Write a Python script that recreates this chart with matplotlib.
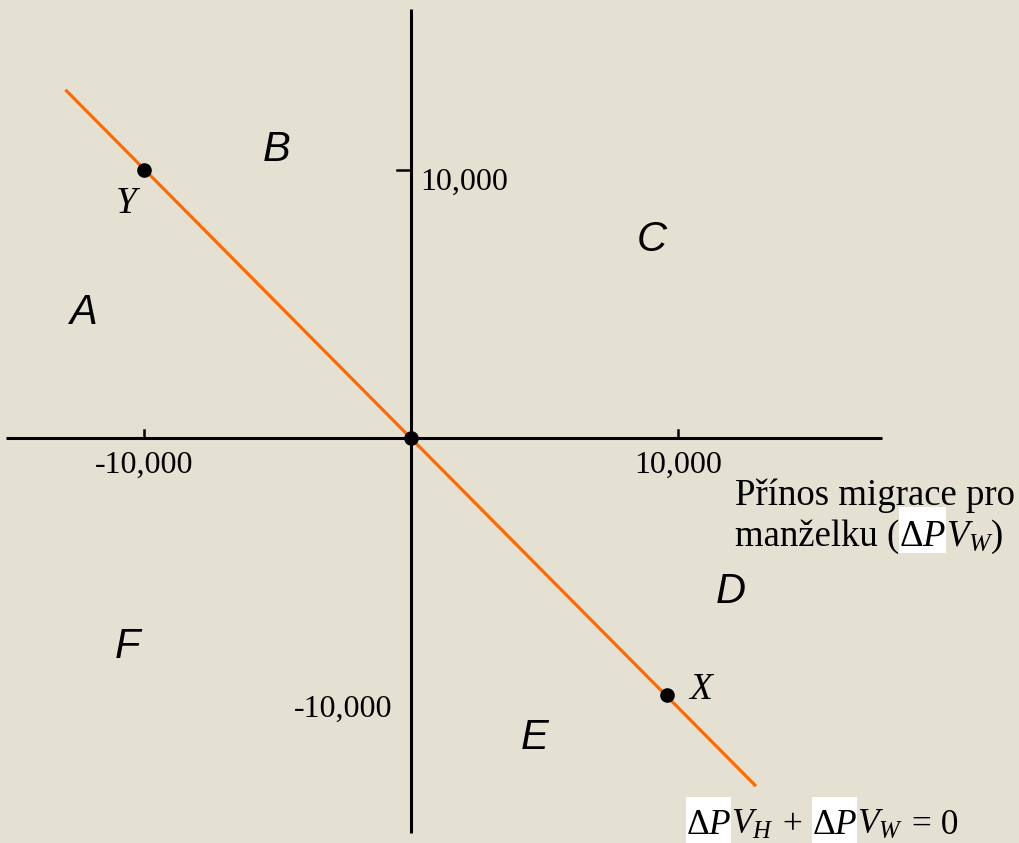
import matplotlib
matplotlib.use("Agg")
import matplotlib.pyplot as plt
from matplotlib.transforms import Affine2D
from matplotlib.patches import Rectangle

# ---- data ----
line_x = [-12900, 12880]          # ΔPV_H + ΔPV_W = 0
line_y = [12950, -12950]
pt_names = ["Y", "O", "X"]
pt_x = [-10000, 0, 9600]
pt_y = [10000, 0, -9600]
xtick_vals = [-10000, 10000]
xtick_labels = ["-10,000", "10,000"]
ytick_vals = [10000, -10000]
ytick_labels = ["10,000", "-10,000"]
regions = ["A", "B", "C", "D", "E", "F"]
axis_x_range = [-15150, 17650]
axis_y_range = [-14750, 16000]

BG = "#E5E1D2"
ORANGE = "#FF6A00"
W, H = 1019, 843

plt.rcParams["mathtext.fontset"] = "custom"
plt.rcParams["mathtext.rm"] = "Liberation Serif"
plt.rcParams["mathtext.it"] = "Liberation Serif:italic"
plt.rcParams["mathtext.bf"] = "Liberation Serif:bold"

fig = plt.figure(figsize=(W / 100, H / 100), dpi=100, facecolor=BG)
ax = fig.add_axes([0, 0, 1, 1])
ax.set_facecolor(BG)
sx, sy = 267 / 1e4, 268 / 1e4
ox, oy = 411, 438
ax.set_xlim((0 - ox) / sx, (W - ox) / sx)
ax.set_ylim((oy - H) / sy, (oy - 0) / sy)
ax.axis("off")
renderer = fig.canvas.get_renderer()

# pixel transform (origin top-left)
tpx = Affine2D().scale(1, -1).translate(0, H)

# axes lines
ax.plot(axis_x_range, [0, 0], color="black", lw=2.2, solid_capstyle="butt", zorder=2)
ax.plot([0, 0], axis_y_range, color="black", lw=2.2, solid_capstyle="butt", zorder=2)

# ticks
for v in xtick_vals:
    ax.plot([v, v], [0, 8 / sy], color="black", lw=1.8, zorder=2)
ax.plot([-14 / sx, 0], [ytick_vals[0]] * 2, color="black", lw=1.8, zorder=2)

tfont = dict(family="Liberation Serif", fontsize=23, color="black")
for v, lab in zip(xtick_vals, xtick_labels):
    ax.annotate(lab, (v, 0), xytext=(0, -13), textcoords="offset pixels",
                ha="center", va="top", **tfont)
ax.annotate(ytick_labels[0], (0, ytick_vals[0]), xytext=(9, -20),
            textcoords="offset pixels", ha="left", va="baseline", **tfont)
ax.annotate(ytick_labels[1], (0, ytick_vals[1]), xytext=(-19, -3),
            textcoords="offset pixels", ha="right", va="center", **tfont)

# orange line
ax.plot(line_x, line_y, color=ORANGE, lw=2.3, zorder=3)
# points
ax.plot(pt_x, pt_y, "o", color="black", ms=9.5, zorder=4)

# point labels
ax.annotate("Y", (pt_x[0], pt_y[0]), xytext=(-18, -43), textcoords="offset pixels",
            ha="center", va="baseline", family="Liberation Serif", style="italic",
            fontsize=27)
ax.annotate("X", (pt_x[2], pt_y[2]), xytext=(33, -4), textcoords="offset pixels",
            ha="center", va="baseline", family="Liberation Serif", style="italic",
            fontsize=27)

# region labels
reg_pos = {"A": (83, 313), "B": (277, 150), "C": (652, 240),
           "D": (731, 592), "E": (535, 738), "F": (127, 647)}
for r in regions:
    x, y = reg_pos[r]
    ax.text(x, y, r, transform=tpx, ha="center", va="center",
            family="Liberation Sans", style="italic", fontsize=30)


def place_pieces(x, y, pieces, fs, box_top, box_bot):
    """Place text pieces left to right; highlighted pieces get a white box."""
    for s, hl in pieces:
        t = ax.text(x, y, s, transform=tpx, ha="left", va="baseline",
                    family="Liberation Serif", fontsize=fs, zorder=5)
        w = t.get_window_extent(renderer).width
        if hl:
            ax.add_patch(Rectangle((x, H - box_bot), w, box_bot - box_top,
                                   transform=None, facecolor="white",
                                   edgecolor="none", zorder=1))
        x += w


FS = 26.5
# axis title
ax.text(735, 505, "Přínos migrace pro", transform=tpx, ha="left", va="baseline",
        family="Liberation Serif", fontsize=FS)
place_pieces(735, 546, [("manželku (", False), (r"$\Delta P$", True),
                        (r"$V_W$)", False)], FS, 507, 553)

# equation
place_pieces(686, 834, [(r"$\Delta P$", True), (r"$V_H$", False),
                        (" + ", False), (r"$\Delta P$", True),
                        (r"$V_W$", False), (" = 0", False)], 25.5, 797, 843)

fig.savefig("out.png", dpi=100, facecolor=BG)
